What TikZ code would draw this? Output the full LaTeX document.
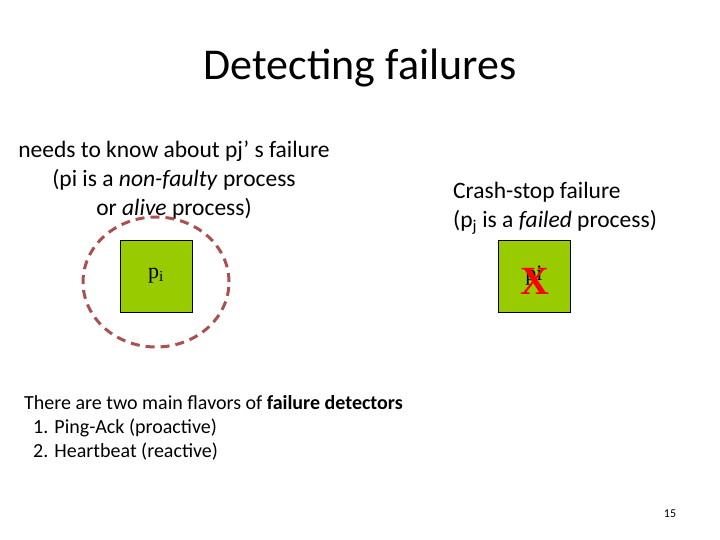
\documentclass[tikz,border=0pt]{standalone}
\usepackage{fontspec}
\usetikzlibrary{shapes.geometric}
\setmainfont{Carlito}
\newfontfamily\serifp{Liberation Serif}
\begin{document}
\begin{tikzpicture}[x=1pt,y=-1pt,
  proc/.style={draw=black,fill={rgb,255:red,153;green,204;blue,0},minimum width=72pt,minimum height=72pt,inner sep=0pt},
  txt/.style={inner sep=0pt,align=center,font=\fontsize{23.5}{29}\selectfont}]
\useasboundingbox (0,0) rectangle (720,540);
\node[inner sep=0pt,font=\fontsize{44}{50}\selectfont] (title) at (360,68) {Detecting failures};
\node[txt] (t1) at (174,180) {needs to know about pj\textquoteright\ s failure\\(pi is a \textit{non-faulty} process\\or \textit{alive} process)};
\node[txt,align=left] (t2) at (555,208) {Crash-stop failure\\(p\textsubscript{j} is a \textit{failed} process)};
\node[proc] (pi) at (156,276) {\serifp\fontsize{22}{24}\selectfont p\textsubscript{i}};
\node[proc] (pj) at (534,276) {\serifp\fontsize{22}{24}\selectfont pi};
\node[text=red,font=\serifp\bfseries\fontsize{40}{40}\selectfont,inner sep=0pt] (x) at (535,281) {X};
\node[draw={rgb,255:red,170;green,80;blue,80},line width=3pt,dash pattern=on 9pt off 6pt,ellipse,minimum width=146pt,minimum height=130pt,inner sep=0pt] (c) at (156,282) {};
\node[inner sep=0pt,align=left,anchor=north west,font=\fontsize{20}{24}\selectfont] (t3) at (24,395) {There are two main flavors of \textbf{failure detectors}\\\ \ 1. Ping-Ack (proactive)\\\ \ 2. Heartbeat (reactive)};
\node[inner sep=0pt,font=\fontsize{12}{12}\selectfont] (n) at (670,514) {15};
\end{tikzpicture}
\end{document}
